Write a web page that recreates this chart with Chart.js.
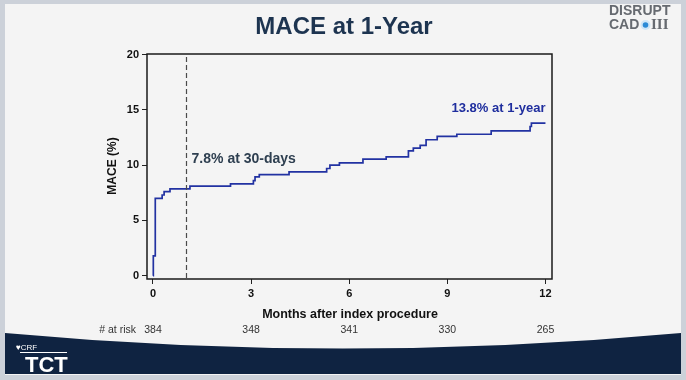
<!DOCTYPE html>
<html>
<head>
<meta charset="utf-8">
<script src="https://cdn.jsdelivr.net/npm/chart.js@4/dist/chart.umd.min.js"></script>
<style>
html,body{margin:0;padding:0;background:#ccd1d9;}
#wrap{width:686px;height:380px;position:relative;}
canvas{display:block;}
</style>
</head>
<body>
<div id="wrap"><canvas id="c" width="686" height="380"></canvas></div>
<script>
// ---- data ----
const months = [0, 0.01, 0.07, 0.28, 0.34, 0.52, 1.13, 2.37, 3.07, 3.12, 3.25, 4.16, 5.31, 5.41, 5.70, 6.42, 7.13, 7.81, 7.96, 8.17, 8.35, 8.69, 9.29, 10.34, 11.53, 11.57, 12.0];
const mace   = [0, 1.8, 7.0, 7.3, 7.6, 7.85, 8.1, 8.3, 8.6, 8.95, 9.15, 9.4, 9.7, 10.0, 10.2, 10.55, 10.75, 11.3, 11.55, 11.8, 12.3, 12.6, 12.8, 13.1, 13.5, 13.8, 13.8];
const xTicks = [0, 3, 6, 9, 12];
const yTicks = [0, 5, 10, 15, 20];
const atRisk = [384, 348, 341, 330, 265];
const marker30days = 1;           // month of the 30-day dashed line
const label30 = "7.8% at 30-days";
const label1y = "13.8% at 1-year";
const titleText = "MACE at 1-Year";
const xTitle = "Months after index procedure";
const yTitle = "MACE (%)";

const FONT = '"Liberation Sans", Arial, sans-serif';

const deco = {
  id: 'deco',
  beforeDraw(chart) {
    const ctx = chart.ctx;
    ctx.save();
    ctx.fillStyle = '#ccd1d9';
    ctx.fillRect(0, 0, 686, 380);
    ctx.fillStyle = '#f4f4f4';
    ctx.fillRect(5, 4, 676, 371);
    // bottom banner
    ctx.fillStyle = '#0f2341';
    ctx.beginPath();
    ctx.moveTo(5, 333);
    ctx.quadraticCurveTo(343, 364, 681, 333);
    ctx.lineTo(681, 374);
    ctx.lineTo(5, 374);
    ctx.closePath();
    ctx.fill();
    ctx.restore();
  },
  afterDraw(chart) {
    const ctx = chart.ctx;
    const a = chart.chartArea;
    const xs = chart.scales.x, ys = chart.scales.y;
    ctx.save();
    // box
    ctx.strokeStyle = '#1a1a1a';
    ctx.lineWidth = 1.5;
    ctx.strokeRect(a.left, a.top, a.right - a.left, a.bottom - a.top);
    // dashed 30-day line
    const dx = Math.round(xs.getPixelForValue(marker30days)) + 0.5;
    ctx.strokeStyle = '#4a4a4a';
    ctx.lineWidth = 1.2;
    ctx.setLineDash([5, 3]);
    ctx.beginPath();
    ctx.moveTo(dx, a.top + 3);
    ctx.lineTo(dx, a.bottom);
    ctx.stroke();
    ctx.setLineDash([]);
    // title
    ctx.fillStyle = '#1d3450';
    ctx.font = 'bold 24px ' + FONT;
    ctx.textAlign = 'center';
    ctx.textBaseline = 'middle';
    ctx.fillText(titleText, 344, 27);
    // annotations
    ctx.font = 'bold 14px ' + FONT;
    ctx.fillStyle = '#2e3f50';
    ctx.textAlign = 'left';
    ctx.fillText(label30, xs.getPixelForValue(1.18), ys.getPixelForValue(10.56));
    ctx.font = 'bold 13px ' + FONT;
    ctx.fillStyle = '#1f2e9e';
    ctx.textAlign = 'right';
    ctx.fillText(label1y, xs.getPixelForValue(12.0), ys.getPixelForValue(15.1));
    // axis titles
    ctx.fillStyle = '#111';
    ctx.font = 'bold 12.5px ' + FONT;
    ctx.textAlign = 'center';
    ctx.fillText(xTitle, 350, 315);
    ctx.save();
    ctx.translate(113, 166);
    ctx.rotate(-Math.PI / 2);
    ctx.font = 'bold 12px ' + FONT;
    ctx.fillText(yTitle, 0, 0);
    ctx.restore();
    // at risk
    ctx.font = '10.5px ' + FONT;
    ctx.fillStyle = '#333';
    ctx.textAlign = 'right';
    ctx.fillText('# at risk', 136, 330);
    ctx.textAlign = 'center';
    xTicks.forEach((m, i) => {
      ctx.fillText(String(atRisk[i]), xs.getPixelForValue(m), 330);
    });
    // DISRUPT CAD III logo
    ctx.fillStyle = '#666a70';
    ctx.font = 'bold 14px ' + FONT;
    ctx.textAlign = 'left';
    ctx.fillText('DISRUPT', 609, 11);
    ctx.fillText('CAD', 609, 25);
    ctx.fillStyle = '#cfe6f7';
    ctx.beginPath(); ctx.arc(645.5, 25, 5, 0, Math.PI * 2); ctx.fill();
    ctx.fillStyle = '#2a8ad6';
    ctx.beginPath(); ctx.arc(645.5, 25, 2.8, 0, Math.PI * 2); ctx.fill();
    ctx.fillStyle = '#666a70';
    ctx.font = 'bold 15px "Liberation Serif", serif';
    ctx.fillText('III', 651, 25.5);
    // CRF / TCT logo
    ctx.fillStyle = '#ffffff';
    ctx.font = '8px ' + FONT;
    ctx.fillText('\u2665CRF', 16, 348);
    ctx.fillRect(20, 352, 47, 1);
    ctx.font = 'bold 22px ' + FONT;
    ctx.textBaseline = 'alphabetic';
    ctx.fillText('TCT', 25, 372);
    ctx.restore();
  }
};

new Chart(document.getElementById('c'), {
  type: 'line',
  data: {
    datasets: [{
      data: months.map((m, i) => ({ x: m, y: mace[i] })),
      borderColor: '#2232a2',
      borderWidth: 1.7,
      pointRadius: 0,
      stepped: true,
      fill: false
    }]
  },
  options: {
    responsive: false,
    devicePixelRatio: 1,
    animation: false,
    layout: { padding: { left: 0, top: 54, right: 134, bottom: 0 } },
    plugins: { legend: { display: false }, tooltip: { enabled: false }, title: { display: false } },
    scales: {
      x: {
        type: 'linear',
        min: -0.183, max: 12.2,
        afterBuildTicks: s => { s.ticks = xTicks.map(v => ({ value: v })); },
        afterFit: s => { s.height = 101; },
        ticks: { font: { family: FONT, size: 11, weight: 'bold' }, color: '#111', padding: 3, maxRotation: 0, autoSkip: false },
        grid: { display: true, drawOnChartArea: false, drawTicks: true, tickLength: 5, color: '#222', lineWidth: 1 },
        border: { display: false }
      },
      y: {
        type: 'linear',
        min: -0.30, max: 20.06,
        afterBuildTicks: s => { s.ticks = yTicks.map(v => ({ value: v })); },
        afterFit: s => { s.width = 147; },
        ticks: { font: { family: FONT, size: 11, weight: 'bold' }, color: '#111', padding: 3, autoSkip: false },
        grid: { display: true, drawOnChartArea: false, drawTicks: true, tickLength: 5, color: '#222', lineWidth: 1 },
        border: { display: false }
      }
    }
  },
  plugins: [deco]
});
</script>
</body>
</html>
